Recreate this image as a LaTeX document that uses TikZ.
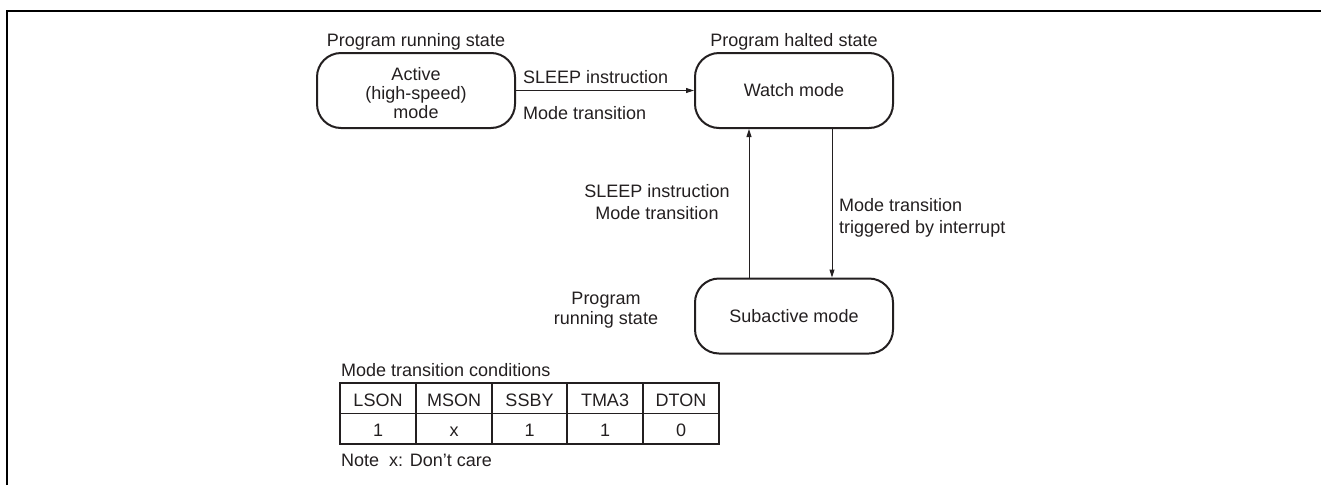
\documentclass[tikz,border=0pt]{standalone}
\usepackage{fontspec}
\setmainfont{Liberation Sans}
\usetikzlibrary{arrows.meta}
\definecolor{ink}{HTML}{231F20}
\begin{document}
\begin{tikzpicture}[x=1pt,y=-1pt,
  txt/.style={font=\fontsize{18}{20}\selectfont, text=ink, inner sep=0pt},
  modebox/.style={draw=ink, line width=2pt, rounded corners=24pt, minimum width=198pt,
    minimum height=75pt, inner sep=0pt, align=center,
    font=\fontsize{18}{19}\selectfont, text=ink},
  arr/.style={draw=ink, line width=1pt, -{Triangle[length=8pt,width=5pt]}},
  frameline/.style={line width=2.4pt, draw=black},
  tabouter/.style={draw=ink, line width=2pt},
  tabinner/.style={draw=ink, line width=1.4pt}]
\useasboundingbox (0,0) rectangle (1321,485);
% frame
\draw[frameline] (7,485) -- (7,11) -- (1321,11);
% mode boxes
\node[modebox] (act) at (416,90.5) {\rule{0pt}{19pt}Active\\(high-speed)\\mode};
\node[modebox] (watch) at (794,90.5) {Watch mode};
\node[modebox] (sub) at (794,316) {Subactive mode};
% state labels
\node[txt, anchor=base] (runA) at (416,46) {Program running state};
\node[txt, anchor=base] (halt) at (794,46) {Program halted state};
\node[txt, anchor=base, align=center] (runB) at (606,324) {Program\\running state};
% connectors
\coordinate (upx) at (749,0);
\coordinate (dnx) at (832,0);
\draw[arr] (act.east) -- (watch.west);
\draw[arr] (sub.north -| upx) -- (watch.south -| upx);
\draw[arr] (watch.south -| dnx) -- (sub.north -| dnx);
% connector labels
\node[txt, anchor=base west] (l1a) at (523,83) {SLEEP instruction};
\node[txt, anchor=base west] (l1b) at (523,119) {Mode transition};
\node[txt, anchor=base] (l2a) at (657,197) {SLEEP instruction};
\node[txt, anchor=base] (l2b) at (657,219) {Mode transition};
\node[txt, anchor=base west] (l3a) at (839,211.5) {Mode transition};
\node[txt, anchor=base west] (l3b) at (839,233.5) {triggered by interrupt};
% table
\node[txt, anchor=base west] (tcap) at (341,376) {Mode transition conditions};
\draw[tabinner] (340,413.3) -- (719,413.3);
\foreach \x in {416,492,567,643} \draw[tabinner] (\x,383.3) -- (\x,444);
\draw[tabouter] (340,383.3) rectangle (719,444);
\node[txt, anchor=base] (h1) at (378,406) {LSON};
\node[txt, anchor=base] (h2) at (454,406) {MSON};
\node[txt, anchor=base] (h3) at (529.5,406) {SSBY};
\node[txt, anchor=base] (h4) at (605,406) {TMA3};
\node[txt, anchor=base] (h5) at (681,406) {DTON};
\node[txt, anchor=base] (v1) at (378,436) {1};
\node[txt, anchor=base] (v2) at (454,436) {x};
\node[txt, anchor=base] (v3) at (529.5,436) {1};
\node[txt, anchor=base] (v4) at (605,436) {1};
\node[txt, anchor=base] (v5) at (681,436) {0};
\node[txt, anchor=base west] (note) at (341,466) {Note\ \ x: Don't care};
\end{tikzpicture}
\end{document}
